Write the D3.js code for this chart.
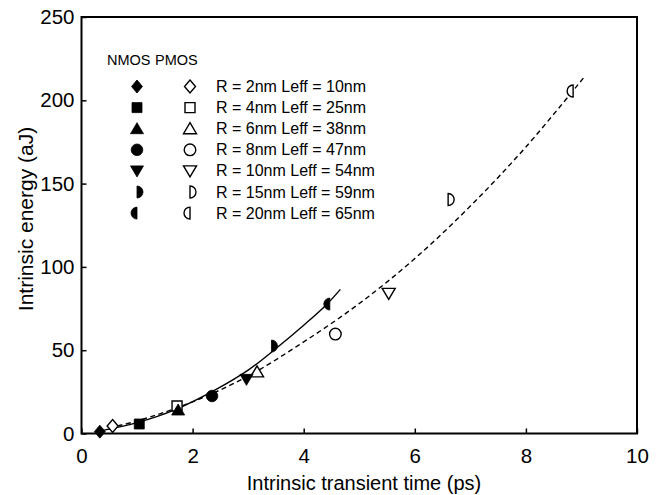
<!DOCTYPE html>
<html><head><meta charset="utf-8">
<script src="https://cdn.jsdelivr.net/npm/d3@7"></script>
<style>body{margin:0;background:#fff}svg{display:block}text{font-family:"Liberation Sans",Arial,sans-serif;fill:#000}</style>
</head><body>
<script>
// ---- data ----
const legendLabels = ["R = 2nm Leff = 10nm","R = 4nm Leff = 25nm","R = 6nm Leff = 38nm","R = 8nm Leff = 47nm","R = 10nm Leff = 54nm","R = 15nm Leff = 59nm","R = 20nm Leff = 65nm"];
const shapes = ["diamond","square","triangle","circle","triangleDown","halfRight","halfLeft"];
const nmosX = [0.33, 1.04, 1.74, 2.35, 2.97, 3.42, 4.47];
const nmosY = [1.1, 5.7, 14.1, 22.5, 32.5, 52.5, 77.7];
const pmosX = [0.56, 1.72, 3.16, 4.57, 5.53, 6.60, 8.85];
const pmosY = [4.5, 16.5, 37.0, 59.7, 84.1, 140.5, 205.6];
const fitNX = [0.3, 1.0, 1.7, 2.4, 3.0, 3.5, 4.0, 4.4, 4.66];
const fitNY = [1.3, 6.5, 14.5, 26, 38, 51, 65, 77, 86.5];
const fitPX = [0.5, 1, 2, 3, 4, 5, 6, 7, 8, 9.07];
const fitPY = [3.5, 7.5, 19, 34.5, 55, 78, 105, 136.5, 172, 214.8];
const xTicks = [0, 2, 4, 6, 8, 10];
const yTicks = [0, 50, 100, 150, 200, 250];
const xTitle = "Intrinsic transient time (ps)";
const yTitle = "Intrinsic energy (aJ)";
const headers = ["NMOS", "PMOS"];

const W = 660, H = 495;
const svg = d3.select("body").append("svg").attr("width", W).attr("height", H);
const x = d3.scaleLinear().domain([0, 10]).range([81.5, 637]);
const y = d3.scaleLinear().domain([0, 250]).range([433.5, 17]);

// axes (ticks inward)
const gx = svg.append("g").attr("transform", `translate(0,${y(0)})`)
  .call(d3.axisBottom(x).tickValues(xTicks).tickSize(-5).tickPadding(15).tickFormat(d3.format("d")));
const gy = svg.append("g").attr("transform", `translate(${x(0)},0)`)
  .call(d3.axisLeft(y).tickValues(yTicks).tickSize(-5).tickPadding(7).tickFormat(d3.format("d")));
[gx, gy].forEach(g => {
  g.select(".domain").remove();
  g.selectAll(".tick line").attr("stroke", "#000").attr("stroke-width", 1.5);
  g.selectAll(".tick text").style("font-size", "20.5px").attr("fill", "#000");
});
gx.selectAll(".tick text").attr("dy", "0.71em");
// frame
svg.append("rect").attr("x", x(0)).attr("y", y(250)).attr("width", x(10) - x(0)).attr("height", y(0) - y(250))
  .attr("fill", "none").attr("stroke", "#000").attr("stroke-width", 2);

// titles
svg.append("text").attr("x", 364).attr("y", 490).attr("text-anchor", "middle")
  .style("font-size", "20px").text(xTitle);
svg.append("text").attr("transform", `translate(33,219) rotate(-90)`).attr("text-anchor", "middle")
  .style("font-size", "21px").text(yTitle);

// fit lines
const line = d3.line().x(d => x(d[0])).y(d => y(d[1])).curve(d3.curveCatmullRom);
svg.append("path").datum(d3.zip(fitNX, fitNY)).attr("d", line)
  .attr("fill", "none").attr("stroke", "#000").attr("stroke-width", 1.4);
svg.append("path").datum(d3.zip(fitPX, fitPY)).attr("d", line)
  .attr("fill", "none").attr("stroke", "#000").attr("stroke-width", 1.4).attr("stroke-dasharray", "5,3.5");

// marker paths centered at 0,0
function markerPath(s) {
  const p = d3.path();
  switch (s) {
    case "diamond": p.moveTo(0,-6.5); p.lineTo(5.5,0); p.lineTo(0,6.5); p.lineTo(-5.5,0); p.closePath(); break;
    case "square": p.rect(-5,-5,10,10); break;
    case "triangle": p.moveTo(0,-6); p.lineTo(6.5,5); p.lineTo(-6.5,5); p.closePath(); break;
    case "circle": p.arc(0,0,5.8,0,2*Math.PI); p.closePath(); break;
    case "triangleDown": p.moveTo(0,6); p.lineTo(6.5,-5); p.lineTo(-6.5,-5); p.closePath(); break;
    case "halfRight": p.moveTo(0,-6); p.arc(0,0,6,-Math.PI/2,Math.PI/2); p.closePath(); break;
    case "halfLeft": p.moveTo(0,6); p.arc(0,0,6,Math.PI/2,3*Math.PI/2); p.closePath(); break;
  }
  return p.toString();
}
function drawMarker(g, s, cx, cy, filled) {
  g.append("path").attr("d", markerPath(s)).attr("transform", `translate(${cx},${cy})`)
    .attr("fill", filled ? "#000" : "#fff").attr("stroke", "#000").attr("stroke-width", filled ? 0.8 : 1.4);
}
const gm = svg.append("g");
shapes.forEach((s, i) => drawMarker(gm, s, x(pmosX[i]), y(pmosY[i]), false));
shapes.forEach((s, i) => drawMarker(gm, s, x(nmosX[i]), y(nmosY[i]), true));

// legend
const lg = svg.append("g");
lg.append("text").attr("x", 107).attr("y", 65).style("font-size", "14.5px").text(headers[0]);
lg.append("text").attr("x", 155).attr("y", 65).style("font-size", "14.5px").text(headers[1]);
legendLabels.forEach((t, i) => {
  const yy = 86.5 + i * 21.1;
  drawMarker(lg, shapes[i], 137, yy, true);
  drawMarker(lg, shapes[i], 190, yy, false);
  lg.append("text").attr("x", 216).attr("y", yy + 5.5).style("font-size", "16px").text(t);
});
</script>
</body></html>
